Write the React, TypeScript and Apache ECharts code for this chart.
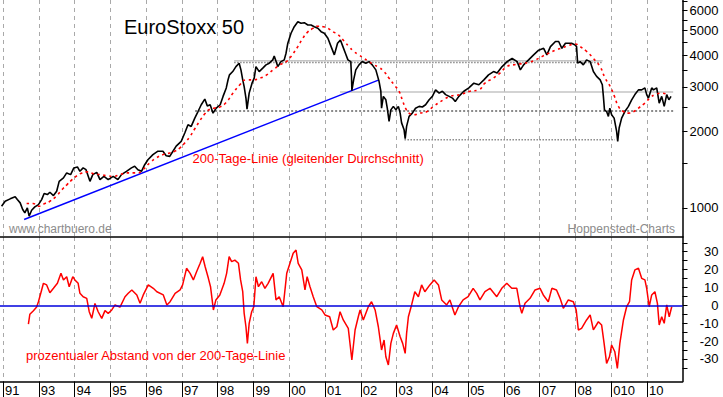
import React, { useEffect, useRef } from 'react';
import * as echarts from 'echarts';

// ---------- data (decimal years) ----------
const priceDates = [
  1991.96, 1992.06, 1992.2, 1992.34, 1992.4, 1992.48, 1992.55, 1992.61, 1992.68, 1992.73, 1992.8, 1992.89, 1992.99,
  1993.08, 1993.15, 1993.24, 1993.31, 1993.41, 1993.5, 1993.57, 1993.69, 1993.78, 1993.89, 1993.98,
  1994.08, 1994.15, 1994.24, 1994.32, 1994.43, 1994.51, 1994.62, 1994.71, 1994.82, 1994.94,
  1995.08, 1995.21, 1995.31, 1995.45, 1995.59, 1995.68, 1995.77, 1995.87, 1995.96,
  1996.05, 1996.19, 1996.33, 1996.47, 1996.56, 1996.66, 1996.75, 1996.84, 1996.98,
  1997.08, 1997.17, 1997.26, 1997.36, 1997.45, 1997.54, 1997.64, 1997.71, 1997.79, 1997.87, 1997.96,
  1998.07, 1998.15, 1998.24, 1998.29, 1998.33, 1998.42, 1998.51, 1998.6, 1998.65, 1998.7, 1998.74, 1998.79, 1998.82, 1998.88, 1998.96,
  1999.02, 1999.07, 1999.16, 1999.26, 1999.35, 1999.44, 1999.54, 1999.58, 1999.68, 1999.77, 1999.86, 1999.91, 1999.96,
  2000.05, 2000.14, 2000.24, 2000.33, 2000.42, 2000.52, 2000.61, 2000.7, 2000.8, 2000.89, 2000.98,
  2001.08, 2001.17, 2001.26, 2001.35, 2001.43, 2001.5, 2001.57, 2001.64, 2001.72, 2001.74, 2001.75, 2001.8, 2001.86, 2001.95,
  2002.04, 2002.14, 2002.23, 2002.32, 2002.42, 2002.51, 2002.56, 2002.58, 2002.63, 2002.7, 2002.74, 2002.79, 2002.84, 2002.91, 2002.98,
  2003.05, 2003.1, 2003.14, 2003.21, 2003.24, 2003.28, 2003.35, 2003.44, 2003.53, 2003.63, 2003.72, 2003.81, 2003.91,
  2004.0, 2004.09, 2004.19, 2004.28, 2004.37, 2004.47, 2004.56, 2004.64, 2004.74, 2004.88,
  2005.02, 2005.16, 2005.3, 2005.44, 2005.57, 2005.71, 2005.81, 2005.95,
  2006.09, 2006.23, 2006.37, 2006.46, 2006.55, 2006.69, 2006.83, 2006.97,
  2007.11, 2007.2, 2007.3, 2007.44, 2007.53, 2007.62, 2007.72, 2007.8, 2007.89, 2007.99,
  2008.03, 2008.06, 2008.13, 2008.22, 2008.31, 2008.41, 2008.5, 2008.59, 2008.69, 2008.75, 2008.78, 2008.81, 2008.87, 2008.92, 2008.96,
  2009.01, 2009.08, 2009.15, 2009.18, 2009.22, 2009.29, 2009.38, 2009.48, 2009.57, 2009.66, 2009.76, 2009.85, 2009.94, 2009.99,
  2010.04, 2010.13, 2010.18, 2010.27, 2010.34, 2010.41, 2010.48, 2010.55, 2010.61, 2010.67,
];
const priceValues = [
  1015, 1062, 1085, 1105, 1078, 1046, 985, 956, 1000, 927, 979, 1009, 1030,
  1078, 1139, 1128, 1152, 1118, 1162, 1272, 1312, 1373, 1352, 1437,
  1450, 1393, 1437, 1414, 1272, 1352, 1380, 1292, 1331, 1292,
  1331, 1292, 1352, 1393, 1437, 1458, 1414, 1393, 1479,
  1548, 1621, 1672, 1672, 1605, 1596, 1672, 1750, 1828,
  1972, 2125, 2094, 2258, 2397, 2549, 2684, 2523, 2549, 2362, 2474,
  2549, 2750, 2970, 3198, 3344, 3445, 3604, 3717, 3499, 3195, 3007, 2708, 2451, 2833, 3101,
  3245, 3604, 3445, 3553, 3661, 3717, 3830, 3971, 3604, 3771, 3830, 4070, 4455,
  4878, 5178, 5417, 5339, 5368, 5257, 5257, 5178, 5103, 4948, 4878,
  4662, 4320, 4008, 4455, 4590, 4320, 4070, 3830, 3771, 3300, 2897, 3195, 3499, 3661,
  3771, 3717, 3771, 3661, 3499, 3152, 2881, 2470, 2750, 2666, 2470, 2191, 2433, 2511, 2433,
  2511, 2362, 2162, 2031, 1875, 2094, 2293, 2362, 2470, 2511, 2497, 2549, 2666,
  2750, 2918, 2833, 2881, 2795, 2750, 2708, 2626, 2750, 2881,
  2970, 3101, 3057, 3195, 3344, 3445, 3398, 3604,
  3771, 3880, 3771, 3499, 3661, 3830, 4008, 4184,
  4254, 4008, 4320, 4526, 4526, 4254, 4455, 4455, 4455, 4385,
  4320, 3717, 3771, 3661, 3830, 3771, 3445, 3297, 3195, 3057, 2750, 2433, 2397, 2293, 2470,
  2328, 2258, 2000, 1828, 2063, 2258, 2397, 2511, 2666, 2795, 2918, 2918, 2970, 2795,
  2708, 2970, 2918, 2970, 2587, 2750, 2511, 2795, 2666, 2750,
];

const maDates = [
  1992.66, 1992.84, 1992.99, 1993.17, 1993.31, 1993.48, 1993.65, 1993.79, 1993.93,
  1994.07, 1994.21, 1994.35, 1994.52, 1994.71, 1994.91, 1995.07, 1995.27, 1995.45, 1995.63, 1995.77, 1995.91,
  1996.1, 1996.28, 1996.47, 1996.66, 1996.8, 1996.94, 1997.08, 1997.22, 1997.36, 1997.5, 1997.64, 1997.78, 1997.92,
  1998.07, 1998.23, 1998.43, 1998.62, 1998.79, 1998.99, 1999.18, 1999.35, 1999.55, 1999.74, 1999.91,
  2000.02, 2000.11, 2000.24, 2000.38, 2000.52, 2000.66, 2000.8, 2000.94, 2001.08, 2001.22, 2001.36, 2001.53, 2001.67, 2001.81, 2001.95,
  2002.09, 2002.23, 2002.37, 2002.51, 2002.65, 2002.79, 2002.93, 2003.07, 2003.16, 2003.25, 2003.35, 2003.49, 2003.65, 2003.84,
  2004.03, 2004.31, 2004.49, 2004.77, 2005.05, 2005.3, 2005.47, 2005.7, 2005.89, 2006.08, 2006.26, 2006.45, 2006.69, 2006.88,
  2007.06, 2007.25, 2007.44, 2007.62, 2007.76, 2007.99, 2008.13, 2008.31, 2008.5, 2008.69, 2008.83, 2008.97,
  2009.09, 2009.2, 2009.34, 2009.48, 2009.62, 2009.76, 2009.94, 2010.08, 2010.22, 2010.41, 2010.59,
];
const maValues = [
  1040, 1040, 1015, 1040, 1062, 1108, 1180, 1235, 1292,
  1339, 1373, 1386, 1364, 1352, 1339, 1331, 1352, 1373, 1373, 1373, 1414,
  1503, 1572, 1621, 1646, 1672, 1721, 1801, 1906, 2050, 2203, 2348, 2448, 2474,
  2500, 2595, 2833, 3057, 3195, 3195, 3245, 3329, 3499, 3661, 3763,
  3904, 4055, 4320, 4662, 4939, 5096, 5200, 5178, 5103, 4948, 4823, 4548, 4320, 4128, 4008,
  3880, 3771, 3661, 3579, 3445, 3245, 3057, 2881, 2666, 2470, 2362, 2328, 2362, 2392,
  2511, 2666, 2750, 2795, 2881, 2918, 3101, 3245, 3398, 3604, 3661, 3694, 3745, 3830,
  3946, 4070, 4184, 4269, 4339, 4427, 4320, 4136, 3880, 3594, 3245, 3007,
  2750, 2511, 2397, 2362, 2392, 2474, 2587, 2708, 2795, 2833, 2795,
];

const devDates = [
  1992.71, 1992.75, 1992.85, 1992.94, 1992.99, 1993.08, 1993.13, 1993.22, 1993.31, 1993.41,
  1993.52, 1993.62, 1993.69, 1993.78, 1993.85, 1993.95, 1994.01, 1994.1, 1994.15, 1994.24,
  1994.34, 1994.41, 1994.48, 1994.57, 1994.66, 1994.76, 1994.85, 1994.94, 1995.04, 1995.13,
  1995.27, 1995.41, 1995.5, 1995.6, 1995.74, 1995.83, 1995.92, 1996.06, 1996.2, 1996.3,
  1996.48, 1996.58, 1996.67, 1996.81, 1996.95, 1997.02, 1997.13, 1997.23, 1997.32, 1997.41,
  1997.51, 1997.58, 1997.65, 1997.74, 1997.8, 1997.88, 1997.95, 1998.06, 1998.18, 1998.25,
  1998.32, 1998.39, 1998.48, 1998.58, 1998.64, 1998.7, 1998.74, 1998.79, 1998.83, 1998.88,
  1998.95, 1999.01, 1999.07, 1999.14, 1999.23, 1999.32, 1999.41, 1999.55, 1999.63, 1999.72,
  1999.83, 1999.93, 2000.02, 2000.11, 2000.19, 2000.25, 2000.35, 2000.44, 2000.5, 2000.58,
  2000.67, 2000.77, 2000.91, 2001.0, 2001.13, 2001.23, 2001.33, 2001.42, 2001.51, 2001.65,
  2001.75, 2001.84, 2001.93, 2001.98, 2002.07, 2002.21, 2002.3, 2002.4, 2002.49, 2002.58,
  2002.65, 2002.7, 2002.77, 2002.84, 2002.91, 2003.0, 2003.1, 2003.17, 2003.24, 2003.28,
  2003.33, 2003.42, 2003.51, 2003.61, 2003.7, 2003.79, 2003.93, 2004.05, 2004.17, 2004.26,
  2004.4, 2004.49, 2004.63, 2004.73, 2004.86, 2005.0, 2005.14, 2005.24, 2005.33, 2005.47,
  2005.61, 2005.8, 2005.94, 2006.08, 2006.22, 2006.36, 2006.45, 2006.5, 2006.59, 2006.73,
  2006.87, 2007.01, 2007.1, 2007.24, 2007.34, 2007.47, 2007.57, 2007.66, 2007.8, 2007.94,
  2008.02, 2008.08, 2008.17, 2008.31, 2008.41, 2008.5, 2008.64, 2008.73, 2008.8, 2008.87,
  2008.95, 2009.01, 2009.1, 2009.17, 2009.24, 2009.34, 2009.43, 2009.51, 2009.57, 2009.66,
  2009.76, 2009.85, 2009.94, 2009.99, 2010.06, 2010.13, 2010.22, 2010.29, 2010.34, 2010.41,
  2010.48, 2010.55, 2010.62, 2010.69,
];
const devValues = [
  -10.5, -5, -3, -1, 2, 8.6, 12.3, 11.4, 7, 9.5,
  12.3, 17.9, 14.2, 16, 10.4, 16, 14.2, 12.3, 6.7, 4.8,
  3.9, -3.6, -7.3, 1, -3.6, -7.3, -3, -4.5, -2.6, 0.2,
  -1, 4.8, 6.7, 8.6, 5.8, 1.1, 5.8, 11.4, 9.5, 7.6,
  5.8, 0.2, 2, 6.7, 8.6, 11.4, 20.7, 17.9, 14.2, 18.8,
  23.5, 27.2, 21.6, 15.1, 10.4, -2.6, 3, 5.8, 12.3, 17.9,
  27.2, 24.4, 25.3, 23.5, 14.2, 7.6, -4.5, -12, -21.3, -10.1,
  -3.6, -0.8, 16, 10.4, 13.2, 9.5, 12.3, 17.9, 3, 4.8,
  -0.8, 17.9, 23.5, 29.1, 30.9, 23.5, 19.8, 8.6, 16, 10.4,
  4.8, -0.8, -2.6, -5.4, -6.4, -13.8, -12, -3.6, -8.2, -12.9,
  -30.6, -13.8, -6.4, -2.6, -8.2, -0.8, 2, -2.6, -12, -25,
  -19.4, -28.8, -33.4, -21.3, -15.7, -11, -17.6, -21.3, -26.9, -15.7,
  -6.4, 0.2, 7.6, 4.8, 11.4, 7.6, 11.4, 14.2, 11.4, 3,
  0.2, 3, -5.4, -0.8, 3, 4.8, 9.5, 6.7, 3, 7.6,
  9.5, 4.8, 9.5, 12.3, 9.5, 9.5, -0.8, -4.5, 1.1, 3.9,
  8.6, 9.5, 5.8, 2, 9.5, 8.6, 3.9, -1.7, 3, 2,
  -2.6, -13.8, -12.9, -8.2, -5.4, -13.8, -9.2, -11, -21.3, -32.5,
  -28.8, -22.2, -26, -35.3, -21.3, -8.2, -0.8, 2, 14.2, 19.8,
  20.7, 15.1, 14.2, 9.5, -0.8, 5.8, 7.6, 1.1, -11, -6.4,
  -10.1, 0.2, -6.4, -0.8,
];

// trend line (blue) and horizontal support / resistance lines
const trendDates = [1992.59, 2002.51];
const trendValues = [900, 3195];
const supportStart = [1998.46, 1998.46, 2001.42, 1997.37, 2003.22];
const supportEnd = [2008.76, 2008.76, 2010.73, 2010.73, 2009.1];
const supportLevel = [3800, 3740, 2860, 2410, 1856];

// axis ticks and labels
const yearTicks = [1992, 1993, 1994, 1995, 1996, 1997, 1998, 1999, 2000, 2001, 2002, 2003, 2004, 2005, 2006, 2007, 2008, 2009, 2010];
const yearLabels = ['91', '93', '94', '95', '96', '97', '98', '99', '00', '01', '02', '03', '04', '05', '06', '07', '08', '010', '10'];
const priceTicks = [1000, 1500, 2000, 2500, 3000, 3500, 4000, 4500, 5000, 5500, 6000, 6500];
const priceLabels = [1000, 2000, 3000, 4000, 5000, 6000];
const devTicks = [-35, -30, -25, -20, -15, -10, -5, 0, 5, 10, 15, 20, 25, 30, 35];
const devLabels = [-30, -20, -10, 0, 10, 20, 30];

const FONT = '"Liberation Sans", Arial, Helvetica, sans-serif';

export default function App() {
  const ref = useRef<HTMLDivElement>(null);

  useEffect(() => {
    if (!ref.current) return;
    const chart = echarts.init(ref.current, null, { renderer: 'svg' });
    const lg = (p: number) => Math.log10(p);

    const priceData = priceDates.map((d, i) => [d, lg(priceValues[i])]);
    const maData = maDates.map((d, i) => [d, lg(maValues[i])]);
    const devData = devDates.map((d, i) => [d, devValues[i]]);
    const trendData = trendDates.map((d, i) => [d, lg(trendValues[i])]);

    const supportStyles = [
      { color: '#c4c4c4', width: 1.5, type: 'solid' },
      { color: '#8a8a8a', width: 1.5, type: 'dotted' },
      { color: '#c4c4c4', width: 1.5, type: 'solid' },
      { color: '#8a8a8a', width: 2, type: 'dotted' },
      { color: '#8a8a8a', width: 1.5, type: 'dotted' },
    ];
    const supportSeries = supportLevel.map((lvl, i) => ({
      type: 'line',
      xAxisIndex: 0,
      yAxisIndex: 0,
      symbol: 'none',
      silent: true,
      lineStyle: supportStyles[i],
      data: [
        [supportStart[i], lg(lvl)],
        [supportEnd[i], lg(lvl)],
      ],
      z: 1,
    }));

    const xMin = 1991.916;
    const xMax = 2010.991;
    const gridDash = { color: '#a9a9a9', type: [4, 4], width: 1 };

    const option: any = {
      animation: false,
      backgroundColor: '#ffffff',
      grid: [
        { left: 0, right: 40.5, top: 0, height: 237, containLabel: false, outerBoundsMode: 'none' },
        { left: 0, right: 40.5, top: 237, height: 144.5, containLabel: false, outerBoundsMode: 'none' },
      ],
      xAxis: [
        {
          type: 'value',
          gridIndex: 0,
          min: xMin,
          max: xMax,
          axisLine: { show: true, onZero: false, lineStyle: { color: '#000', width: 1.5 } },
          axisTick: { show: false, customValues: yearTicks },
          axisLabel: { show: false, customValues: yearTicks },
          splitLine: { show: true, lineStyle: gridDash },
        },
        {
          type: 'value',
          gridIndex: 1,
          min: xMin,
          max: xMax,
          axisLine: { show: true, onZero: false, lineStyle: { color: '#000', width: 1.5 } },
          axisTick: {
            show: true,
            customValues: yearTicks,
            length: 16,
            inside: false,
            lineStyle: { color: '#000', width: 1 },
          },
          axisLabel: {
            show: true,
            customValues: yearTicks,
            formatter: (v: number) => {
              const k = yearTicks.indexOf(Math.round(v));
              return k >= 0 ? yearLabels[k] : '';
            },
            align: 'left',
            margin: 2,
            padding: [0, 0, 0, 2],
            color: '#000',
            fontFamily: FONT,
            fontSize: 13,
          },
          splitLine: { show: true, lineStyle: gridDash },
        },
      ],
      yAxis: [
        {
          type: 'value',
          gridIndex: 0,
          position: 'right',
          min: lg(767.5),
          max: lg(6596),
          axisLine: { show: true, lineStyle: { color: '#000', width: 1.5 } },
          axisTick: {
            show: true,
            customValues: priceTicks.map(lg),
            length: 5,
            inside: false,
            lineStyle: { color: '#000', width: 1 },
          },
          axisLabel: {
            show: true,
            customValues: priceLabels.map(lg),
            formatter: (v: number) => String(Math.round(Math.pow(10, v))),
            align: 'right',
            margin: 36,
            color: '#000',
            fontFamily: FONT,
            fontSize: 13,
          },
          splitLine: { show: false },
        },
        {
          type: 'value',
          gridIndex: 1,
          position: 'right',
          min: -42.64,
          max: 38.22,
          axisLine: { show: true, lineStyle: { color: '#000', width: 1.5 } },
          axisTick: {
            show: true,
            customValues: devTicks,
            length: 5,
            inside: false,
            lineStyle: { color: '#000', width: 1 },
          },
          axisLabel: {
            show: true,
            customValues: devLabels,
            formatter: (v: number) => String(Math.round(v)),
            align: 'right',
            margin: 36,
            color: '#000',
            fontFamily: FONT,
            fontSize: 13,
          },
          splitLine: { show: false },
        },
      ],
      series: [
        ...supportSeries,
        {
          type: 'line',
          name: 'Trend',
          xAxisIndex: 0,
          yAxisIndex: 0,
          symbol: 'none',
          silent: true,
          lineStyle: { color: '#0000ff', width: 1.5 },
          data: trendData,
          z: 2,
        },
        {
          type: 'line',
          name: 'EuroStoxx 50',
          xAxisIndex: 0,
          yAxisIndex: 0,
          symbol: 'none',
          lineStyle: { color: '#000000', width: 1.6 },
          data: priceData,
          z: 3,
        },
        {
          type: 'line',
          name: '200-Tage-Linie',
          xAxisIndex: 0,
          yAxisIndex: 0,
          symbol: 'none',
          smooth: true,
          lineStyle: { color: '#ff0000', width: 1.6, type: [2.5, 3.5] },
          data: maData,
          z: 4,
        },
        {
          type: 'line',
          name: 'Abstand',
          xAxisIndex: 1,
          yAxisIndex: 1,
          symbol: 'none',
          lineStyle: { color: '#ff0000', width: 1.5 },
          data: devData,
          z: 3,
          markLine: {
            silent: true,
            symbol: 'none',
            label: { show: false },
            lineStyle: { color: '#0000dd', type: 'solid', width: 1.5 },
            data: [{ yAxis: 0 }],
          },
        },
      ],
      graphic: [
        {
          type: 'text',
          x: 124,
          y: 26.5,
          style: { text: 'EuroStoxx 50', fill: '#000', font: `20px ${FONT}`, textVerticalAlign: 'middle', verticalAlign: 'middle' },
          z: 10,
        },
        {
          type: 'text',
          x: 192.5,
          y: 158.5,
          style: {
            text: '200-Tage-Linie (gleitender Durchschnitt)',
            fill: '#ff0000',
            font: `13px ${FONT}`,
            textVerticalAlign: 'middle',
            verticalAlign: 'middle',
          },
          z: 10,
        },
        {
          type: 'text',
          x: 9,
          y: 229,
          style: { text: 'www.chartbuero.de', fill: '#8c8c8c', font: `12px ${FONT}`, textVerticalAlign: 'middle', verticalAlign: 'middle' },
          z: 10,
        },
        {
          type: 'text',
          x: 675,
          y: 228.5,
          style: {
            text: 'Hoppenstedt-Charts',
            fill: '#8c8c8c',
            font: `12px ${FONT}`,
            textAlign: 'right',
            align: 'right',
            textVerticalAlign: 'middle',
            verticalAlign: 'middle',
          },
          z: 10,
        },
        {
          type: 'text',
          x: 26,
          y: 355,
          style: {
            text: 'prozentualer Abstand von der 200-Tage-Linie',
            fill: '#ff0000',
            font: `13px ${FONT}`,
            textVerticalAlign: 'middle',
            verticalAlign: 'middle',
          },
          z: 10,
        },
      ],
    };

    chart.setOption(option);
    return () => chart.dispose();
  }, []);

  return (
    <div
      ref={ref}
      style={{ position: 'fixed', left: 0, top: 0, width: 723, height: 397, background: '#fff' }}
    />
  );
}
